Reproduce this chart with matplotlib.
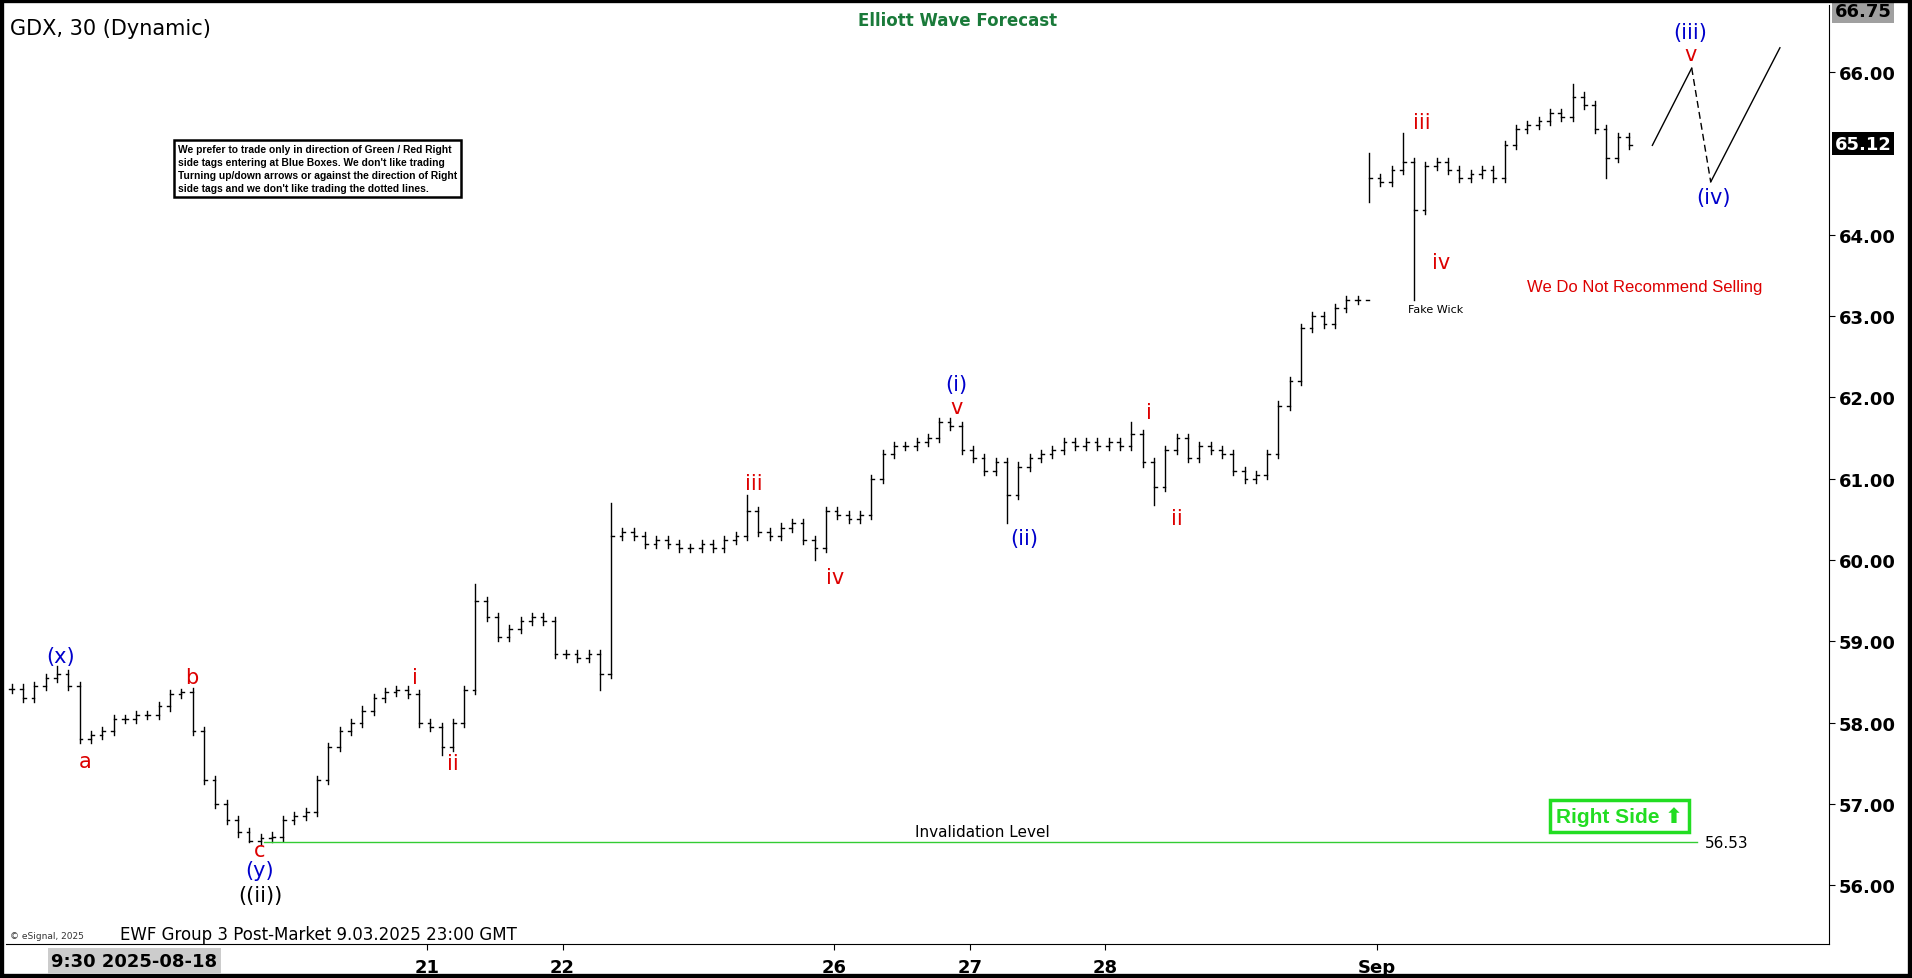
import matplotlib
matplotlib.use("Agg")
import matplotlib.pyplot as plt
from matplotlib.patches import Rectangle

# ---- data: 12 half-hour-ish closes per trading day ----
day_labels = ["", "", "", "21", "22", "", "26", "27", "28", "", "Sep", ""]
closes = [
    [58.42,58.30,58.45,58.55,58.60,58.45,57.80,57.85,57.90,58.05,58.05,58.10],
    [58.10,58.20,58.35,58.38,57.90,57.30,57.00,56.80,56.65,56.55,56.58,56.60],
    [56.80,56.85,56.90,57.30,57.70,57.90,58.00,58.15,58.30,58.38,58.40,58.35],
    [58.00,57.95,57.70,58.00,58.40,59.50,59.30,59.05,59.15,59.25,59.30,59.25],
    [58.85,58.85,58.80,58.85,58.60,60.30,60.35,60.30,60.20,60.25,60.20,60.15],
    [60.15,60.20,60.15,60.25,60.30,60.60,60.35,60.30,60.40,60.45,60.25,60.15],
    [60.60,60.55,60.50,60.55,61.00,61.30,61.40,61.40,61.45,61.50,61.70,61.65],
    [61.35,61.25,61.10,61.20,60.80,61.15,61.25,61.30,61.35,61.45,61.40,61.45],
    [61.40,61.45,61.40,61.55,61.20,60.90,61.35,61.50,61.25,61.40,61.35,61.30],
    [61.10,61.00,61.05,61.30,61.90,62.20,62.85,63.00,62.90,63.10,63.20,63.20],
    [64.70,64.65,64.80,64.90,64.30,64.85,64.90,64.80,64.70,64.75,64.80,64.70],
    [65.10,65.30,65.35,65.40,65.50,65.45,65.70,65.60,65.30,64.95,65.20,65.10],
]
# notable wicks: (day, bar, high, low)
wicks = [(0,4,58.70,None),(1,3,58.42,None),(1,9,None,56.53),(3,2,None,57.60),
         (3,5,59.70,None),(4,4,None,58.40),(4,5,60.70,None),(5,5,60.80,None),
         (5,11,None,60.00),(6,10,61.75,None),(7,4,None,60.45),(8,3,61.70,None),
         (8,5,None,60.68),(10,0,65.00,64.40),(10,3,65.25,None),(10,4,None,63.20),
         (11,6,65.85,None),(11,9,None,64.70)]
projection_t = [12.13, 12.42, 12.56, 13.07]
projection_p = [65.10, 66.05, 64.65, 66.30]
invalidation = 56.53
last_price = 65.12

W, H = 1568.0, 803.0
fig = plt.figure(figsize=(19.12, 9.79), dpi=100)
fig.patch.set_facecolor("white")
ax = fig.add_axes([5/W, 1-775/H, 1495/W, 770/H])
ax.set_xlim(0, 1495/111.3)
ax.set_ylim(56 + (727-775)/66.7, 56 + (727-5)/66.7)

wk = {(d, b): (h, l) for d, b, h, l in wicks}
prev = closes[0][0]
for d, day in enumerate(closes):
    n = len(day)
    for b, c in enumerate(day):
        t = d + (b + 0.5) / n
        o = prev
        hi = max(o, c) + 0.05
        lo = min(o, c) - 0.05
        if (d, b) in wk:
            h2, l2 = wk[(d, b)]
            if h2 is not None: hi = h2
            if l2 is not None: lo = l2
        ax.plot([t, t], [lo, hi], color="black", lw=1)
        ax.plot([t-0.02, t], [o, o], color="black", lw=1)
        ax.plot([t, t+0.02], [c, c], color="black", lw=1)
        prev = c

ax.plot(projection_t[:2], projection_p[:2], color="black", lw=1)
ax.plot(projection_t[1:3], projection_p[1:3], color="black", lw=1, ls=(0, (5, 3)))
ax.plot(projection_t[2:], projection_p[2:], color="black", lw=1)

ax.plot([1.9, 12.46], [invalidation]*2, color="#33cc33", lw=1)
ax.text(7.19, 56.66, "Invalidation Level", fontsize=11, ha="center", va="center")
ax.text(12.52, 56.53, "56.53", fontsize=11, ha="left", va="center")

red, blue = "#dd0000", "#0000cc"
labels = [
    (0.40,58.82,"(x)",blue),(0.58,57.53,"a",red),(1.37,58.56,"b",red),
    (1.87,56.43,"c",red),(1.87,56.19,"(y)",blue),(1.87,55.88,"((ii))","black"),
    (3.01,58.56,"i",red),(3.29,57.50,"ii",red),(5.51,60.95,"iii",red),
    (6.11,59.79,"iv",red),(7.00,62.16,"(i)",blue),(7.00,61.88,"v",red),
    (7.50,60.27,"(ii)",blue),(8.42,61.82,"i",red),(8.63,60.52,"ii",red),
    (10.43,65.39,"iii",red),(10.57,63.66,"iv",red),(12.41,66.49,"(iii)",blue),
    (12.41,66.22,"v",red),(12.58,64.46,"(iv)",blue)]
for x, y, s, c in labels:
    ax.text(x, y, s, color=c, fontsize=15, ha="center", va="center")
ax.text(10.53, 63.09, "Fake Wick", fontsize=8, ha="center", va="center")
ax.text(12.07, 63.36, "We Do Not Recommend Selling", color=red, fontsize=12,
        ha="center", va="center", family="Liberation Sans")

ax.text(11.89, 56.85, "Right Side \u2b06", color="#22dd22", fontsize=15, weight="bold",
        ha="center", va="center", family=["Liberation Sans", "DejaVu Sans"],
        bbox=dict(boxstyle="square,pad=0.3", fc="white", ec="#22dd22", lw=2.5))

ax.text(141/1495, 1-(139-5)/770, "We prefer to trade only in direction of Green / Red Right\n"
        "side tags entering at Blue Boxes. We don't like trading\n"
        "Turning up/down arrows or against the direction of Right\n"
        "side tags and we don't like trading the dotted lines.",
        transform=ax.transAxes, fontsize=7.4, weight="bold", va="center", ha="left",
        family="Liberation Sans", linespacing=1.35,
        bbox=dict(boxstyle="square,pad=0.4", fc="white", ec="black", lw=1.8))

# axes styling
ax.yaxis.tick_right()
yt = [v for v in range(56, 67) if v != 65]
ax.set_yticks(yt)
ax.set_yticklabels([f"{v:.2f}" for v in yt], fontsize=13, weight="bold")
ax.tick_params(axis="y", length=4, pad=3)
ticks = [d + 0.1 for d, s in enumerate(day_labels) if s]
ax.set_xticks(ticks)
ax.set_xticklabels([s for s in day_labels if s], fontsize=13, weight="bold")
ax.tick_params(axis="x", length=4, pad=6)
for s in ["top", "left"]:
    ax.spines[s].set_visible(False)

ax.text(1.003, 66.75, "66.75", transform=ax.get_yaxis_transform(), fontsize=13, weight="bold",
        va="center", ha="left", bbox=dict(boxstyle="square,pad=0.15", fc="#a0a0a0", ec="none"))
ax.text(1.003, last_price, "65.12", transform=ax.get_yaxis_transform(), fontsize=13, weight="bold",
        color="white", va="center", ha="left",
        bbox=dict(boxstyle="square,pad=0.15", fc="black", ec="none"))

fig.text(8/W, 1-24/H, "GDX, 30 (Dynamic)", fontsize=15, va="center")
fig.text(785/W, 1-17/H, "Elliott Wave Forecast", fontsize=12, weight="bold",
         color="#1a7a3a", va="center", ha="center")
fig.text(98/W, 1-767/H, "EWF Group 3 Post-Market 9.03.2025 23:00 GMT", fontsize=12, va="center")
fig.text(8/W, 1-768/H, "\u00a9 eSignal, 2025", fontsize=6.5, va="center", color="#333333")
fig.text(42/W, 1-789/H, "9:30 2025-08-18", fontsize=13, weight="bold", va="center",
         bbox=dict(boxstyle="square,pad=0.2", fc="#cccccc", ec="none"))
fig.add_artist(Rectangle((0, 0), 1, 1, transform=fig.transFigure, fill=False,
                         ec="black", lw=6))
fig.savefig("out.png", dpi=100, facecolor="white")
